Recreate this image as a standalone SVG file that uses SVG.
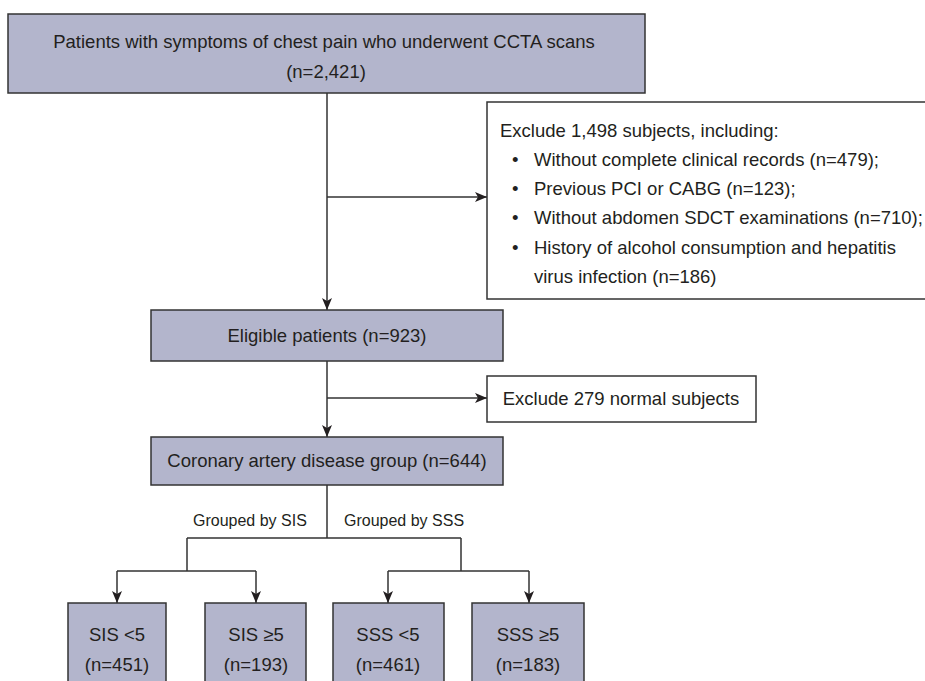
<svg xmlns="http://www.w3.org/2000/svg" width="925" height="681" viewBox="0 0 925 681">
<defs>
<marker id="ah" viewBox="0 0 12 10" refX="12" refY="5" markerWidth="12" markerHeight="10" markerUnits="userSpaceOnUse" orient="auto">
<path d="M0,0 L12,5 L0,10 L3,5 Z" fill="#231f20"/>
</marker>
<style>
.box{fill:#b3b5cc;stroke:#333;stroke-width:1.5}
.wbox{fill:#fff;stroke:#333;stroke-width:1.5}
.t{font-family:"Liberation Sans",Arial,sans-serif;font-size:18.5px;fill:#231f20}
.c{text-anchor:middle}
.s{font-size:16px}
.ln{fill:none;stroke:#333;stroke-width:1.5}
</style>
</defs>
<g id="connectors">
<path class="ln" d="M327,93 V310" marker-end="url(#ah)"/>
<path class="ln" d="M327,197 H487" marker-end="url(#ah)"/>
<path class="ln" d="M327,361 V437" marker-end="url(#ah)"/>
<path class="ln" d="M327,398 H487" marker-end="url(#ah)"/>
<path class="ln" d="M327,485 V538 M187,538 H461"/>
<path class="ln" d="M187,538 V571 M117,571 H256"/>
<path class="ln" d="M117,571 V603" marker-end="url(#ah)"/>
<path class="ln" d="M256,571 V603" marker-end="url(#ah)"/>
<path class="ln" d="M461,538 V571 M388,571 H529"/>
<path class="ln" d="M388,571 V603" marker-end="url(#ah)"/>
<path class="ln" d="M529,571 V603" marker-end="url(#ah)"/>
</g>
<g id="n-start">
<rect class="box" x="8" y="14" width="637" height="79"/>
<text class="t c" x="324" y="48">Patients with symptoms of chest pain who underwent CCTA scans</text>
<text class="t c" x="326" y="78">(n=2,421)</text>
</g>
<g id="n-exclude1">
<rect class="wbox" x="487" y="102" width="445" height="197"/>
<text class="t" x="500" y="137">Exclude 1,498 subjects, including:</text>
<text class="t" x="512" y="166">•</text><text class="t" x="534" y="166">Without complete clinical records (n=479);</text>
<text class="t" x="512" y="195">•</text><text class="t" x="534" y="195">Previous PCI or CABG (n=123);</text>
<text class="t" x="512" y="224">•</text><text class="t" x="534" y="224">Without abdomen SDCT examinations (n=710);</text>
<text class="t" x="512" y="254">•</text><text class="t" x="534" y="254">History of alcohol consumption and hepatitis</text>
<text class="t" x="534" y="283">virus infection (n=186)</text>
</g>
<g id="n-eligible">
<rect class="box" x="151" y="310" width="352" height="51"/>
<text class="t c" x="327" y="342">Eligible patients (n=923)</text>
</g>
<g id="n-exclude2">
<rect class="wbox" x="487" y="376" width="269" height="46"/>
<text class="t c" x="621" y="405">Exclude 279 normal subjects</text>
</g>
<g id="n-cad">
<rect class="box" x="151" y="437" width="352" height="48"/>
<text class="t c" x="327" y="467">Coronary artery disease group (n=644)</text>
</g>
<g id="labels">
<text class="t s" x="193" y="526">Grouped by SIS</text>
<text class="t s" x="344" y="526">Grouped by SSS</text>
</g>
<g id="n-sis-lt5">
<rect class="box" x="68" y="603" width="98" height="90"/>
<text class="t c" x="117" y="641">SIS &lt;5</text>
<text class="t c" x="117" y="671">(n=451)</text>
</g>
<g id="n-sis-ge5">
<rect class="box" x="205" y="603" width="101" height="90"/>
<text class="t c" x="256" y="641">SIS ≥5</text>
<text class="t c" x="256" y="671">(n=193)</text>
</g>
<g id="n-sss-lt5">
<rect class="box" x="333" y="603" width="111" height="90"/>
<text class="t c" x="388" y="641">SSS &lt;5</text>
<text class="t c" x="388" y="671">(n=461)</text>
</g>
<g id="n-sss-ge5">
<rect class="box" x="472" y="603" width="112" height="90"/>
<text class="t c" x="528" y="641">SSS ≥5</text>
<text class="t c" x="528" y="671">(n=183)</text>
</g>
</svg>
